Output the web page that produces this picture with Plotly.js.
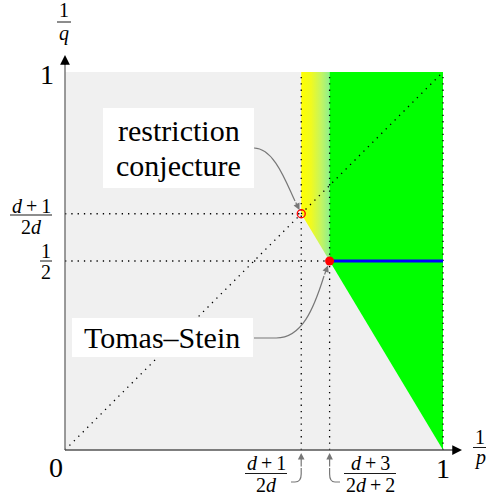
<!DOCTYPE html>
<html>
<head>
<meta charset="utf-8">
<script src="https://cdn.plot.ly/plotly-3.0.1.min.js"></script>
<style>html,body{margin:0;padding:0;background:#fff;}#plot{width:486px;height:495px;}</style>
</head>
<body>
<div id="plot"></div>
<script>
// ---- data (d = 4) ----
const squareX = [0, 1, 1, 0, 0];
const squareY = [0, 0, 1, 1, 0];
const shadeX = [0.625, 0.625, 0.7, 0.7, 0.625];
const shadeY = [0.625, 1, 1, 0.5, 0.625];
const greenX = [0.7, 0.7, 1, 1, 0.7];
const greenY = [0.5, 1, 1, 0, 0.5];
const diagX = [0, 1];
const diagY = [0, 1];
const vLineX = [0.625, 0.7, 1];
const hLineY = [0.625, 0.5];
const hLineEnd = [0.625, 0.7];
const blueX = [0.7, 1];
const blueY = [0.5, 0.5];
const tomasSteinX = [0.7];
const tomasSteinY = [0.5];
const conjX = [0.625];
const conjY = [0.625];
const axisTicks = ['0', '1', '1'];

// ---- pixel helpers for label placement ----
const X = px => (px - 65) / 378;
const Y = py => (450 - py) / 378;

const FONT = "'Liberation Serif', 'DejaVu Serif', serif";
const dotLine = {color: '#000', width: 1.3, dash: '1.3px,5px'};

const traces = [];
traces.push({x: squareX, y: squareY, mode: 'lines', fill: 'toself', fillcolor: '#f0f0f0', line: {width: 0}, hoverinfo: 'skip'});
traces.push({x: shadeX, y: shadeY, mode: 'lines', fill: 'toself', line: {width: 0},
  fillgradient: {type: 'horizontal', start: shadeX[0], stop: shadeX[2], colorscale: [[0, '#ffff00'], [0.35, '#f0fa20'], [0.7, '#c4f560'], [1, '#8ef08e']]}, hoverinfo: 'skip'});
traces.push({x: greenX, y: greenY, mode: 'lines', fill: 'toself', fillcolor: '#00ff00', line: {width: 0}, hoverinfo: 'skip'});
// dotted guides
traces.push({x: diagX, y: diagY, mode: 'lines', line: dotLine, hoverinfo: 'skip'});
vLineX.forEach(v => traces.push({x: [v, v], y: [0, 1], mode: 'lines', line: dotLine, hoverinfo: 'skip'}));
hLineY.forEach((v, i) => traces.push({x: [0, hLineEnd[i]], y: [v, v], mode: 'lines', line: dotLine, hoverinfo: 'skip'}));
// blue segment
traces.push({x: blueX, y: blueY, mode: 'lines', line: {color: '#0000ff', width: 3.2}, hoverinfo: 'skip'});
// points
traces.push({x: tomasSteinX, y: tomasSteinY, mode: 'markers', marker: {color: '#ff0000', size: 9}, hoverinfo: 'skip'});
traces.push({x: conjX, y: conjY, mode: 'markers', marker: {symbol: 'circle-open', color: '#ff0000', size: 8, line: {width: 1.3}}, hoverinfo: 'skip'});
// axes lines
traces.push({x: [0, X(455)], y: [0, 0], mode: 'lines', line: {color: '#555', width: 1.6}, hoverinfo: 'skip'});
traces.push({x: [0, 0], y: [0, Y(62)], mode: 'lines', line: {color: '#666', width: 1.3}, hoverinfo: 'skip'});

const shapes = [];
const annotations = [];

// white label boxes
shapes.push({type: 'rect', xref: 'x', yref: 'y', x0: X(103), x1: X(254), y0: Y(108), y1: Y(188), fillcolor: '#fff', line: {width: 0}, layer: 'above'});
shapes.push({type: 'rect', xref: 'x', yref: 'y', x0: X(72), x1: X(253), y0: Y(318), y1: Y(357), fillcolor: '#fff', line: {width: 0}, layer: 'above'});

function txt(t, px, py, size, extra) {
  annotations.push(Object.assign({text: t, x: X(px), y: Y(py), xref: 'x', yref: 'y', showarrow: false,
    xanchor: 'center', yanchor: 'middle', font: {family: FONT, size: size, color: '#000'}}, extra || {}));
}
function frac(num, den, cx, numY, barY, denY, x0, x1, size) {
  txt(num, cx, numY, size);
  txt(den, cx, denY, size);
  shapes.push({type: 'line', xref: 'x', yref: 'y', x0: X(x0), x1: X(x1), y0: Y(barY), y1: Y(barY), line: {color: '#000', width: 0.9}, layer: 'above'});
}
function curve(d) {
  shapes.push({type: 'path', xref: 'x', yref: 'y', path: d, line: {color: '#777', width: 1.2}, layer: 'above'});
}
function arrow(fx, fy, tx, ty, color, size, width) {
  annotations.push({x: X(tx), y: Y(ty), ax: X(fx), ay: Y(fy), xref: 'x', yref: 'y', axref: 'x', ayref: 'y',
    text: '', showarrow: true, arrowhead: 2, arrowsize: size, arrowwidth: width, arrowcolor: color, standoff: 0});
}
const P = (px, py) => X(px) + ',' + Y(py);

// tick labels
txt(axisTicks[0], 56, 467, 28);
txt(axisTicks[1], 443, 468, 28);
txt(axisTicks[2], 47, 74, 28);

const sp = '\u2009';
frac('1', '<i>p</i>', 480, 437, 447.5, 457.5, 473, 487, 20);
frac('1', '<i>q</i>', 64, 10, 22, 33, 57, 71, 20);
frac('<i>d</i>' + sp + '+' + sp + '1', '2<i>d</i>', 31, 206, 215, 226.5, 10, 52, 20);
frac('1', '2', 46, 251, 261, 271.5, 40, 52, 20);
frac('<i>d</i>' + sp + '+' + sp + '1', '2<i>d</i>', 266, 463, 473.5, 485, 245, 287, 20);
frac('<i>d</i>' + sp + '+' + sp + '3', '2<i>d</i>' + sp + '+' + sp + '2', 370, 463, 473.5, 485, 344, 396, 20);

// labels
txt('restriction', 178.5, 130, 30);
txt('conjecture', 178.5, 165, 30);
txt('Tomas\u2013Stein', 162, 337, 30);

// callout curves and arrowheads
curve('M' + P(254, 148) + ' C' + P(274, 148) + ' ' + P(286, 182) + ' ' + P(295, 201));
arrow(295, 201, 299.5, 210, '#777', 1.1, 1.2);
curve('M' + P(254, 338) + ' L' + P(275, 338) + ' C' + P(302, 339) + ' ' + P(314, 308) + ' ' + P(324, 276));
arrow(324, 276, 328, 265.5, '#777', 1.1, 1.2);
// bottom hooks
curve('M' + P(291, 482) + ' L' + P(295, 482) + ' Q' + P(301.2, 482) + ' ' + P(301.2, 474) + ' L' + P(301.2, 468));
arrow(301.2, 468, 301.2, 453, '#777', 1.1, 1.2);
curve('M' + P(340, 482) + ' L' + P(335, 482) + ' Q' + P(329.6, 482) + ' ' + P(329.6, 474) + ' L' + P(329.6, 468));
arrow(329.6, 468, 329.6, 453, '#777', 1.1, 1.2);
// axis arrowheads
arrow(452, 450, 462, 450, '#000', 1.3, 1.5);
arrow(65, 66, 65, 55, '#000', 1.3, 1.5);

const layout = {
  width: 486, height: 495,
  margin: {l: 0, r: 0, t: 0, b: 0},
  paper_bgcolor: '#fff', plot_bgcolor: '#fff',
  showlegend: false,
  xaxis: {range: [X(0), X(486)], visible: false, fixedrange: true},
  yaxis: {range: [Y(495), Y(0)], visible: false, fixedrange: true},
  shapes: shapes,
  annotations: annotations
};
Plotly.newPlot('plot', traces, layout, {staticPlot: true, displayModeBar: false});
</script>
</body>
</html>
